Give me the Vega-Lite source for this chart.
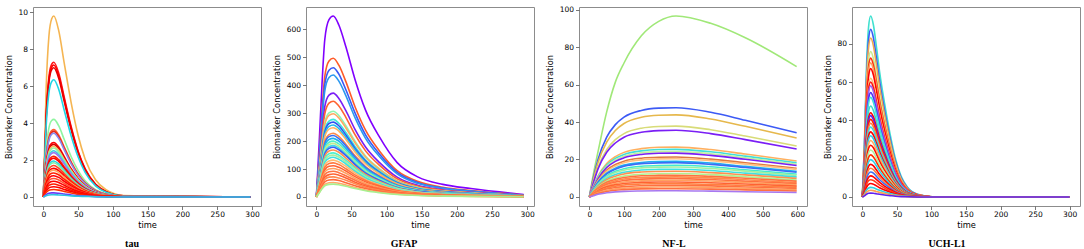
{
"$schema": "https://vega.github.io/schema/vega-lite/v6.json",
"background": "white",
"padding": {"left": 3, "top": 5, "right": 0, "bottom": 0},
"bounds": "flush",
"spacing": 45,
"resolve": {"scale": {"color": "independent", "x": "independent", "y": "independent"}},
"config": {
"view": {"stroke": "#8c8c8c", "strokeWidth": 1},
"axis": {"labelFont": "DejaVu Sans", "labelFontSize": 7.5, "labelColor": "#000", "titleFont": "DejaVu Sans", "titleFontSize": 8.3, "titleFontWeight": "normal", "titleColor": "#000", "tickColor": "#555", "tickSize": 3.5, "tickWidth": 0.8, "domain": false, "grid": false},
"axisX": {"labelPadding": 1, "titlePadding": 2.5},
"axisY": {"labelPadding": 2, "titlePadding": 4.5},
"line": {"strokeWidth": 1.6, "interpolate": "monotone"}
},
"datasets": {
"tau": [
{"c":1,"t":0,"v":0},{"c":1,"t":4,"v":5.88},{"c":1,"t":8,"v":8.72},{"c":1,"t":12,"v":9.65},{"c":1,"t":15,"v":9.8},{"c":1,"t":22,"v":9.02},{"c":1,"t":30,"v":7.25},{"c":1,"t":40,"v":5.1},{"c":1,"t":50,"v":3.33},{"c":1,"t":60,"v":2.06},{"c":1,"t":75,"v":0.93},{"c":1,"t":90,"v":0.39},{"c":1,"t":115,"v":0.08},{"c":1,"t":298,"v":0},
{"c":2,"t":0,"v":0},{"c":2,"t":4,"v":4.38},{"c":2,"t":8,"v":6.5},{"c":2,"t":12,"v":7.19},{"c":2,"t":15,"v":7.3},{"c":2,"t":22,"v":6.72},{"c":2,"t":30,"v":5.4},{"c":2,"t":40,"v":3.8},{"c":2,"t":50,"v":2.48},{"c":2,"t":60,"v":1.53},{"c":2,"t":75,"v":0.69},{"c":2,"t":90,"v":0.29},{"c":2,"t":115,"v":0.06},{"c":2,"t":298,"v":0},
{"c":3,"t":0,"v":0},{"c":3,"t":4,"v":4.29},{"c":3,"t":8,"v":6.36},{"c":3,"t":12,"v":7.04},{"c":3,"t":15,"v":7.15},{"c":3,"t":22,"v":6.58},{"c":3,"t":30,"v":5.29},{"c":3,"t":40,"v":3.72},{"c":3,"t":50,"v":2.43},{"c":3,"t":60,"v":1.5},{"c":3,"t":75,"v":0.68},{"c":3,"t":90,"v":0.29},{"c":3,"t":115,"v":0.06},{"c":3,"t":298,"v":0},
{"c":4,"t":0,"v":0},{"c":4,"t":4,"v":4.2},{"c":4,"t":8,"v":6.23},{"c":4,"t":12,"v":6.9},{"c":4,"t":15,"v":7},{"c":4,"t":22,"v":6.44},{"c":4,"t":30,"v":5.18},{"c":4,"t":40,"v":3.64},{"c":4,"t":50,"v":2.38},{"c":4,"t":60,"v":1.47},{"c":4,"t":75,"v":0.67},{"c":4,"t":90,"v":0.28},{"c":4,"t":115,"v":0.06},{"c":4,"t":298,"v":0},
{"c":5,"t":0,"v":0},{"c":5,"t":4,"v":3.81},{"c":5,"t":8,"v":5.65},{"c":5,"t":12,"v":6.25},{"c":5,"t":15,"v":6.35},{"c":5,"t":22,"v":5.84},{"c":5,"t":30,"v":4.7},{"c":5,"t":40,"v":3.3},{"c":5,"t":50,"v":2.16},{"c":5,"t":60,"v":1.33},{"c":5,"t":75,"v":0.6},{"c":5,"t":90,"v":0.25},{"c":5,"t":115,"v":0.05},{"c":5,"t":298,"v":0},
{"c":6,"t":0,"v":0},{"c":6,"t":4,"v":2.52},{"c":6,"t":8,"v":3.74},{"c":6,"t":12,"v":4.14},{"c":6,"t":15,"v":4.2},{"c":6,"t":22,"v":3.86},{"c":6,"t":30,"v":3.11},{"c":6,"t":40,"v":2.18},{"c":6,"t":50,"v":1.43},{"c":6,"t":60,"v":0.88},{"c":6,"t":75,"v":0.4},{"c":6,"t":90,"v":0.17},{"c":6,"t":115,"v":0.03},{"c":6,"t":298,"v":0},
{"c":7,"t":0,"v":0},{"c":7,"t":4,"v":2.19},{"c":7,"t":8,"v":3.25},{"c":7,"t":12,"v":3.6},{"c":7,"t":15,"v":3.65},{"c":7,"t":22,"v":3.36},{"c":7,"t":30,"v":2.7},{"c":7,"t":40,"v":1.9},{"c":7,"t":50,"v":1.24},{"c":7,"t":60,"v":0.77},{"c":7,"t":75,"v":0.35},{"c":7,"t":90,"v":0.15},{"c":7,"t":115,"v":0.03},{"c":7,"t":298,"v":0},
{"c":8,"t":0,"v":0},{"c":8,"t":4,"v":2.13},{"c":8,"t":8,"v":3.16},{"c":8,"t":12,"v":3.5},{"c":8,"t":15,"v":3.55},{"c":8,"t":22,"v":3.27},{"c":8,"t":30,"v":2.63},{"c":8,"t":40,"v":1.85},{"c":8,"t":50,"v":1.21},{"c":8,"t":60,"v":0.75},{"c":8,"t":75,"v":0.34},{"c":8,"t":90,"v":0.14},{"c":8,"t":115,"v":0.03},{"c":8,"t":298,"v":0},
{"c":9,"t":0,"v":0},{"c":9,"t":4,"v":2.07},{"c":9,"t":8,"v":3.07},{"c":9,"t":12,"v":3.4},{"c":9,"t":15,"v":3.45},{"c":9,"t":22,"v":3.17},{"c":9,"t":30,"v":2.55},{"c":9,"t":40,"v":1.79},{"c":9,"t":50,"v":1.17},{"c":9,"t":60,"v":0.72},{"c":9,"t":75,"v":0.33},{"c":9,"t":90,"v":0.14},{"c":9,"t":115,"v":0.03},{"c":9,"t":298,"v":0},
{"c":10,"t":0,"v":0},{"c":10,"t":4,"v":1.77},{"c":10,"t":8,"v":2.63},{"c":10,"t":12,"v":2.91},{"c":10,"t":15,"v":2.95},{"c":10,"t":22,"v":2.71},{"c":10,"t":30,"v":2.18},{"c":10,"t":40,"v":1.53},{"c":10,"t":50,"v":1},{"c":10,"t":60,"v":0.62},{"c":10,"t":75,"v":0.28},{"c":10,"t":90,"v":0.12},{"c":10,"t":115,"v":0.02},{"c":10,"t":298,"v":0},
{"c":11,"t":0,"v":0},{"c":11,"t":4,"v":1.71},{"c":11,"t":8,"v":2.54},{"c":11,"t":12,"v":2.81},{"c":11,"t":15,"v":2.85},{"c":11,"t":22,"v":2.62},{"c":11,"t":30,"v":2.11},{"c":11,"t":40,"v":1.48},{"c":11,"t":50,"v":0.97},{"c":11,"t":60,"v":0.6},{"c":11,"t":75,"v":0.27},{"c":11,"t":90,"v":0.11},{"c":11,"t":115,"v":0.02},{"c":11,"t":298,"v":0},
{"c":12,"t":0,"v":0},{"c":12,"t":4,"v":1.65},{"c":12,"t":8,"v":2.45},{"c":12,"t":12,"v":2.71},{"c":12,"t":15,"v":2.75},{"c":12,"t":22,"v":2.53},{"c":12,"t":30,"v":2.04},{"c":12,"t":40,"v":1.43},{"c":12,"t":50,"v":0.94},{"c":12,"t":60,"v":0.58},{"c":12,"t":75,"v":0.26},{"c":12,"t":90,"v":0.11},{"c":12,"t":115,"v":0.02},{"c":12,"t":298,"v":0},
{"c":13,"t":0,"v":0},{"c":13,"t":4,"v":1.59},{"c":13,"t":8,"v":2.36},{"c":13,"t":12,"v":2.61},{"c":13,"t":15,"v":2.65},{"c":13,"t":22,"v":2.44},{"c":13,"t":30,"v":1.96},{"c":13,"t":40,"v":1.38},{"c":13,"t":50,"v":0.9},{"c":13,"t":60,"v":0.56},{"c":13,"t":75,"v":0.25},{"c":13,"t":90,"v":0.11},{"c":13,"t":115,"v":0.02},{"c":13,"t":298,"v":0},
{"c":14,"t":0,"v":0},{"c":14,"t":4,"v":1.5},{"c":14,"t":8,"v":2.23},{"c":14,"t":12,"v":2.46},{"c":14,"t":15,"v":2.5},{"c":14,"t":22,"v":2.3},{"c":14,"t":30,"v":1.85},{"c":14,"t":40,"v":1.3},{"c":14,"t":50,"v":0.85},{"c":14,"t":60,"v":0.53},{"c":14,"t":75,"v":0.24},{"c":14,"t":90,"v":0.1},{"c":14,"t":115,"v":0.02},{"c":14,"t":298,"v":0},
{"c":15,"t":0,"v":0},{"c":15,"t":4,"v":1.44},{"c":15,"t":8,"v":2.14},{"c":15,"t":12,"v":2.36},{"c":15,"t":15,"v":2.4},{"c":15,"t":22,"v":2.21},{"c":15,"t":30,"v":1.78},{"c":15,"t":40,"v":1.25},{"c":15,"t":50,"v":0.82},{"c":15,"t":60,"v":0.5},{"c":15,"t":75,"v":0.23},{"c":15,"t":90,"v":0.1},{"c":15,"t":115,"v":0.02},{"c":15,"t":298,"v":0},
{"c":16,"t":0,"v":0},{"c":16,"t":4,"v":1.32},{"c":16,"t":8,"v":1.96},{"c":16,"t":12,"v":2.17},{"c":16,"t":15,"v":2.2},{"c":16,"t":22,"v":2.02},{"c":16,"t":30,"v":1.63},{"c":16,"t":40,"v":1.14},{"c":16,"t":50,"v":0.75},{"c":16,"t":60,"v":0.46},{"c":16,"t":75,"v":0.21},{"c":16,"t":90,"v":0.09},{"c":16,"t":115,"v":0.02},{"c":16,"t":298,"v":0},
{"c":17,"t":0,"v":0},{"c":17,"t":4,"v":1.26},{"c":17,"t":8,"v":1.87},{"c":17,"t":12,"v":2.07},{"c":17,"t":15,"v":2.1},{"c":17,"t":22,"v":1.93},{"c":17,"t":30,"v":1.55},{"c":17,"t":40,"v":1.09},{"c":17,"t":50,"v":0.71},{"c":17,"t":60,"v":0.44},{"c":17,"t":75,"v":0.2},{"c":17,"t":90,"v":0.08},{"c":17,"t":115,"v":0.02},{"c":17,"t":298,"v":0},
{"c":18,"t":0,"v":0},{"c":18,"t":4,"v":1.17},{"c":18,"t":8,"v":1.74},{"c":18,"t":12,"v":1.92},{"c":18,"t":15,"v":1.95},{"c":18,"t":22,"v":1.79},{"c":18,"t":30,"v":1.44},{"c":18,"t":40,"v":1.01},{"c":18,"t":50,"v":0.66},{"c":18,"t":60,"v":0.41},{"c":18,"t":75,"v":0.19},{"c":18,"t":90,"v":0.08},{"c":18,"t":115,"v":0.02},{"c":18,"t":298,"v":0},
{"c":19,"t":0,"v":0},{"c":19,"t":4,"v":1.11},{"c":19,"t":8,"v":1.65},{"c":19,"t":12,"v":1.82},{"c":19,"t":15,"v":1.85},{"c":19,"t":22,"v":1.7},{"c":19,"t":30,"v":1.37},{"c":19,"t":40,"v":0.96},{"c":19,"t":50,"v":0.63},{"c":19,"t":60,"v":0.39},{"c":19,"t":75,"v":0.18},{"c":19,"t":90,"v":0.07},{"c":19,"t":115,"v":0.01},{"c":19,"t":298,"v":0},
{"c":20,"t":0,"v":0},{"c":20,"t":4,"v":1.02},{"c":20,"t":8,"v":1.51},{"c":20,"t":12,"v":1.67},{"c":20,"t":15,"v":1.7},{"c":20,"t":22,"v":1.56},{"c":20,"t":30,"v":1.26},{"c":20,"t":40,"v":0.88},{"c":20,"t":50,"v":0.58},{"c":20,"t":60,"v":0.36},{"c":20,"t":75,"v":0.16},{"c":20,"t":90,"v":0.07},{"c":20,"t":115,"v":0.01},{"c":20,"t":298,"v":0},
{"c":21,"t":0,"v":0},{"c":21,"t":4,"v":0.93},{"c":21,"t":8,"v":1.38},{"c":21,"t":12,"v":1.53},{"c":21,"t":15,"v":1.55},{"c":21,"t":22,"v":1.43},{"c":21,"t":30,"v":1.15},{"c":21,"t":40,"v":0.81},{"c":21,"t":50,"v":0.53},{"c":21,"t":60,"v":0.33},{"c":21,"t":75,"v":0.15},{"c":21,"t":90,"v":0.06},{"c":21,"t":115,"v":0.01},{"c":21,"t":298,"v":0},
{"c":22,"t":0,"v":0},{"c":22,"t":4,"v":0.87},{"c":22,"t":8,"v":1.29},{"c":22,"t":12,"v":1.43},{"c":22,"t":15,"v":1.45},{"c":22,"t":22,"v":1.33},{"c":22,"t":30,"v":1.07},{"c":22,"t":40,"v":0.75},{"c":22,"t":50,"v":0.49},{"c":22,"t":60,"v":0.3},{"c":22,"t":75,"v":0.14},{"c":22,"t":90,"v":0.06},{"c":22,"t":115,"v":0.01},{"c":22,"t":298,"v":0},
{"c":23,"t":0,"v":0},{"c":23,"t":4,"v":0.78},{"c":23,"t":8,"v":1.16},{"c":23,"t":12,"v":1.28},{"c":23,"t":15,"v":1.3},{"c":23,"t":22,"v":1.2},{"c":23,"t":30,"v":0.96},{"c":23,"t":40,"v":0.68},{"c":23,"t":50,"v":0.44},{"c":23,"t":60,"v":0.27},{"c":23,"t":75,"v":0.12},{"c":23,"t":90,"v":0.05},{"c":23,"t":115,"v":0.01},{"c":23,"t":298,"v":0},
{"c":24,"t":0,"v":0},{"c":24,"t":4,"v":0.69},{"c":24,"t":8,"v":1.02},{"c":24,"t":12,"v":1.13},{"c":24,"t":15,"v":1.15},{"c":24,"t":22,"v":1.06},{"c":24,"t":30,"v":0.85},{"c":24,"t":40,"v":0.6},{"c":24,"t":50,"v":0.39},{"c":24,"t":60,"v":0.24},{"c":24,"t":75,"v":0.11},{"c":24,"t":90,"v":0.05},{"c":24,"t":115,"v":0.01},{"c":24,"t":298,"v":0},
{"c":25,"t":0,"v":0},{"c":25,"t":4,"v":0.6},{"c":25,"t":8,"v":0.89},{"c":25,"t":12,"v":0.99},{"c":25,"t":15,"v":1},{"c":25,"t":22,"v":0.92},{"c":25,"t":30,"v":0.74},{"c":25,"t":40,"v":0.52},{"c":25,"t":50,"v":0.34},{"c":25,"t":60,"v":0.21},{"c":25,"t":75,"v":0.1},{"c":25,"t":90,"v":0.04},{"c":25,"t":115,"v":0.01},{"c":25,"t":298,"v":0},
{"c":26,"t":0,"v":0},{"c":26,"t":4,"v":0.51},{"c":26,"t":8,"v":0.76},{"c":26,"t":12,"v":0.84},{"c":26,"t":15,"v":0.85},{"c":26,"t":22,"v":0.78},{"c":26,"t":30,"v":0.63},{"c":26,"t":40,"v":0.44},{"c":26,"t":50,"v":0.29},{"c":26,"t":60,"v":0.18},{"c":26,"t":75,"v":0.08},{"c":26,"t":90,"v":0.03},{"c":26,"t":115,"v":0.01},{"c":26,"t":298,"v":0},
{"c":27,"t":0,"v":0},{"c":27,"t":4,"v":0.42},{"c":27,"t":8,"v":0.62},{"c":27,"t":12,"v":0.69},{"c":27,"t":15,"v":0.7},{"c":27,"t":22,"v":0.64},{"c":27,"t":30,"v":0.52},{"c":27,"t":40,"v":0.36},{"c":27,"t":50,"v":0.24},{"c":27,"t":60,"v":0.15},{"c":27,"t":75,"v":0.07},{"c":27,"t":90,"v":0.03},{"c":27,"t":115,"v":0.01},{"c":27,"t":298,"v":0},
{"c":28,"t":0,"v":0},{"c":28,"t":4,"v":0.33},{"c":28,"t":8,"v":0.49},{"c":28,"t":12,"v":0.54},{"c":28,"t":15,"v":0.55},{"c":28,"t":22,"v":0.51},{"c":28,"t":30,"v":0.41},{"c":28,"t":40,"v":0.29},{"c":28,"t":50,"v":0.19},{"c":28,"t":60,"v":0.12},{"c":28,"t":75,"v":0.05},{"c":28,"t":90,"v":0.02},{"c":28,"t":115,"v":0},{"c":28,"t":298,"v":0},
{"c":29,"t":0,"v":0},{"c":29,"t":4,"v":0.24},{"c":29,"t":8,"v":0.36},{"c":29,"t":12,"v":0.39},{"c":29,"t":15,"v":0.4},{"c":29,"t":22,"v":0.37},{"c":29,"t":30,"v":0.3},{"c":29,"t":40,"v":0.21},{"c":29,"t":50,"v":0.14},{"c":29,"t":60,"v":0.08},{"c":29,"t":75,"v":0.04},{"c":29,"t":90,"v":0.02},{"c":29,"t":115,"v":0},{"c":29,"t":298,"v":0},
{"c":30,"t":0,"v":0},{"c":30,"t":4,"v":0.13},{"c":30,"t":8,"v":0.2},{"c":30,"t":12,"v":0.22},{"c":30,"t":15,"v":0.22},{"c":30,"t":22,"v":0.2},{"c":30,"t":30,"v":0.16},{"c":30,"t":40,"v":0.11},{"c":30,"t":50,"v":0.07},{"c":30,"t":60,"v":0.05},{"c":30,"t":75,"v":0.02},{"c":30,"t":90,"v":0.01},{"c":30,"t":115,"v":0},{"c":30,"t":298,"v":0},
{"c":31,"t":0,"v":0},{"c":31,"t":4,"v":0.07},{"c":31,"t":8,"v":0.11},{"c":31,"t":12,"v":0.12},{"c":31,"t":15,"v":0.12},{"c":31,"t":22,"v":0.11},{"c":31,"t":30,"v":0.09},{"c":31,"t":40,"v":0.06},{"c":31,"t":50,"v":0.04},{"c":31,"t":60,"v":0.03},{"c":31,"t":75,"v":0.01},{"c":31,"t":90,"v":0},{"c":31,"t":115,"v":0},{"c":31,"t":298,"v":0}
],
"gfap": [
{"c":1,"t":0,"v":0},{"c":1,"t":4,"v":194},{"c":1,"t":8,"v":402},{"c":1,"t":12,"v":564},{"c":1,"t":18,"v":635},{"c":1,"t":24,"v":648},{"c":1,"t":32,"v":616},{"c":1,"t":42,"v":538},{"c":1,"t":55,"v":421},{"c":1,"t":70,"v":311},{"c":1,"t":90,"v":214},{"c":1,"t":115,"v":123},{"c":1,"t":145,"v":71},{"c":1,"t":180,"v":45},{"c":1,"t":220,"v":30},{"c":1,"t":295,"v":9},
{"c":2,"t":0,"v":0},{"c":2,"t":4,"v":149},{"c":2,"t":8,"v":308},{"c":2,"t":12,"v":432},{"c":2,"t":18,"v":487},{"c":2,"t":24,"v":497},{"c":2,"t":32,"v":472},{"c":2,"t":42,"v":413},{"c":2,"t":55,"v":323},{"c":2,"t":70,"v":239},{"c":2,"t":90,"v":164},{"c":2,"t":115,"v":94},{"c":2,"t":145,"v":55},{"c":2,"t":180,"v":35},{"c":2,"t":220,"v":23},{"c":2,"t":295,"v":7},
{"c":3,"t":0,"v":0},{"c":3,"t":4,"v":139},{"c":3,"t":8,"v":287},{"c":3,"t":12,"v":403},{"c":3,"t":18,"v":454},{"c":3,"t":24,"v":463},{"c":3,"t":32,"v":440},{"c":3,"t":42,"v":384},{"c":3,"t":55,"v":301},{"c":3,"t":70,"v":222},{"c":3,"t":90,"v":153},{"c":3,"t":115,"v":88},{"c":3,"t":145,"v":51},{"c":3,"t":180,"v":32},{"c":3,"t":220,"v":21},{"c":3,"t":295,"v":6},
{"c":4,"t":0,"v":0},{"c":4,"t":4,"v":131},{"c":4,"t":8,"v":271},{"c":4,"t":12,"v":380},{"c":4,"t":18,"v":428},{"c":4,"t":24,"v":437},{"c":4,"t":32,"v":415},{"c":4,"t":42,"v":363},{"c":4,"t":55,"v":284},{"c":4,"t":70,"v":210},{"c":4,"t":90,"v":144},{"c":4,"t":115,"v":83},{"c":4,"t":145,"v":48},{"c":4,"t":180,"v":31},{"c":4,"t":220,"v":20},{"c":4,"t":295,"v":6},
{"c":5,"t":0,"v":0},{"c":5,"t":4,"v":112},{"c":5,"t":8,"v":231},{"c":5,"t":12,"v":324},{"c":5,"t":18,"v":365},{"c":5,"t":24,"v":372},{"c":5,"t":32,"v":353},{"c":5,"t":42,"v":309},{"c":5,"t":55,"v":242},{"c":5,"t":70,"v":179},{"c":5,"t":90,"v":123},{"c":5,"t":115,"v":71},{"c":5,"t":145,"v":41},{"c":5,"t":180,"v":26},{"c":5,"t":220,"v":17},{"c":5,"t":295,"v":5},
{"c":6,"t":0,"v":0},{"c":6,"t":4,"v":103},{"c":6,"t":8,"v":213},{"c":6,"t":12,"v":298},{"c":6,"t":18,"v":336},{"c":6,"t":24,"v":343},{"c":6,"t":32,"v":326},{"c":6,"t":42,"v":285},{"c":6,"t":55,"v":223},{"c":6,"t":70,"v":165},{"c":6,"t":90,"v":113},{"c":6,"t":115,"v":65},{"c":6,"t":145,"v":38},{"c":6,"t":180,"v":24},{"c":6,"t":220,"v":16},{"c":6,"t":295,"v":5},
{"c":7,"t":0,"v":0},{"c":7,"t":4,"v":92},{"c":7,"t":8,"v":190},{"c":7,"t":12,"v":267},{"c":7,"t":18,"v":301},{"c":7,"t":24,"v":307},{"c":7,"t":32,"v":292},{"c":7,"t":42,"v":255},{"c":7,"t":55,"v":200},{"c":7,"t":70,"v":147},{"c":7,"t":90,"v":101},{"c":7,"t":115,"v":58},{"c":7,"t":145,"v":34},{"c":7,"t":180,"v":21},{"c":7,"t":220,"v":14},{"c":7,"t":295,"v":4},
{"c":8,"t":0,"v":0},{"c":8,"t":4,"v":89},{"c":8,"t":8,"v":185},{"c":8,"t":12,"v":259},{"c":8,"t":18,"v":292},{"c":8,"t":24,"v":298},{"c":8,"t":32,"v":283},{"c":8,"t":42,"v":247},{"c":8,"t":55,"v":194},{"c":8,"t":70,"v":143},{"c":8,"t":90,"v":98},{"c":8,"t":115,"v":57},{"c":8,"t":145,"v":33},{"c":8,"t":180,"v":21},{"c":8,"t":220,"v":14},{"c":8,"t":295,"v":4},
{"c":9,"t":0,"v":0},{"c":9,"t":4,"v":83},{"c":9,"t":8,"v":172},{"c":9,"t":12,"v":242},{"c":9,"t":18,"v":272},{"c":9,"t":24,"v":278},{"c":9,"t":32,"v":264},{"c":9,"t":42,"v":231},{"c":9,"t":55,"v":181},{"c":9,"t":70,"v":133},{"c":9,"t":90,"v":92},{"c":9,"t":115,"v":53},{"c":9,"t":145,"v":31},{"c":9,"t":180,"v":19},{"c":9,"t":220,"v":13},{"c":9,"t":295,"v":4},
{"c":10,"t":0,"v":0},{"c":10,"t":4,"v":80},{"c":10,"t":8,"v":166},{"c":10,"t":12,"v":233},{"c":10,"t":18,"v":263},{"c":10,"t":24,"v":268},{"c":10,"t":32,"v":255},{"c":10,"t":42,"v":222},{"c":10,"t":55,"v":174},{"c":10,"t":70,"v":129},{"c":10,"t":90,"v":88},{"c":10,"t":115,"v":51},{"c":10,"t":145,"v":29},{"c":10,"t":180,"v":19},{"c":10,"t":220,"v":12},{"c":10,"t":295,"v":4},
{"c":11,"t":0,"v":0},{"c":11,"t":4,"v":77},{"c":11,"t":8,"v":160},{"c":11,"t":12,"v":224},{"c":11,"t":18,"v":253},{"c":11,"t":24,"v":258},{"c":11,"t":32,"v":245},{"c":11,"t":42,"v":214},{"c":11,"t":55,"v":168},{"c":11,"t":70,"v":124},{"c":11,"t":90,"v":85},{"c":11,"t":115,"v":49},{"c":11,"t":145,"v":28},{"c":11,"t":180,"v":18},{"c":11,"t":220,"v":12},{"c":11,"t":295,"v":4},
{"c":12,"t":0,"v":0},{"c":12,"t":4,"v":74},{"c":12,"t":8,"v":154},{"c":12,"t":12,"v":216},{"c":12,"t":18,"v":243},{"c":12,"t":24,"v":248},{"c":12,"t":32,"v":236},{"c":12,"t":42,"v":206},{"c":12,"t":55,"v":161},{"c":12,"t":70,"v":119},{"c":12,"t":90,"v":82},{"c":12,"t":115,"v":47},{"c":12,"t":145,"v":27},{"c":12,"t":180,"v":17},{"c":12,"t":220,"v":11},{"c":12,"t":295,"v":3},
{"c":13,"t":0,"v":0},{"c":13,"t":4,"v":68},{"c":13,"t":8,"v":141},{"c":13,"t":12,"v":198},{"c":13,"t":18,"v":223},{"c":13,"t":24,"v":228},{"c":13,"t":32,"v":217},{"c":13,"t":42,"v":189},{"c":13,"t":55,"v":148},{"c":13,"t":70,"v":109},{"c":13,"t":90,"v":75},{"c":13,"t":115,"v":43},{"c":13,"t":145,"v":25},{"c":13,"t":180,"v":16},{"c":13,"t":220,"v":10},{"c":13,"t":295,"v":3},
{"c":14,"t":0,"v":0},{"c":14,"t":4,"v":66},{"c":14,"t":8,"v":136},{"c":14,"t":12,"v":191},{"c":14,"t":18,"v":216},{"c":14,"t":24,"v":220},{"c":14,"t":32,"v":209},{"c":14,"t":42,"v":183},{"c":14,"t":55,"v":143},{"c":14,"t":70,"v":106},{"c":14,"t":90,"v":73},{"c":14,"t":115,"v":42},{"c":14,"t":145,"v":24},{"c":14,"t":180,"v":15},{"c":14,"t":220,"v":10},{"c":14,"t":295,"v":3},
{"c":15,"t":0,"v":0},{"c":15,"t":4,"v":63},{"c":15,"t":8,"v":130},{"c":15,"t":12,"v":183},{"c":15,"t":18,"v":206},{"c":15,"t":24,"v":210},{"c":15,"t":32,"v":200},{"c":15,"t":42,"v":174},{"c":15,"t":55,"v":137},{"c":15,"t":70,"v":101},{"c":15,"t":90,"v":69},{"c":15,"t":115,"v":40},{"c":15,"t":145,"v":23},{"c":15,"t":180,"v":15},{"c":15,"t":220,"v":10},{"c":15,"t":295,"v":3},
{"c":16,"t":0,"v":0},{"c":16,"t":4,"v":60},{"c":16,"t":8,"v":124},{"c":16,"t":12,"v":174},{"c":16,"t":18,"v":196},{"c":16,"t":24,"v":200},{"c":16,"t":32,"v":190},{"c":16,"t":42,"v":166},{"c":16,"t":55,"v":130},{"c":16,"t":70,"v":96},{"c":16,"t":90,"v":66},{"c":16,"t":115,"v":38},{"c":16,"t":145,"v":22},{"c":16,"t":180,"v":14},{"c":16,"t":220,"v":9},{"c":16,"t":295,"v":3},
{"c":17,"t":0,"v":0},{"c":17,"t":4,"v":58},{"c":17,"t":8,"v":119},{"c":17,"t":12,"v":167},{"c":17,"t":18,"v":188},{"c":17,"t":24,"v":192},{"c":17,"t":32,"v":182},{"c":17,"t":42,"v":159},{"c":17,"t":55,"v":125},{"c":17,"t":70,"v":92},{"c":17,"t":90,"v":63},{"c":17,"t":115,"v":36},{"c":17,"t":145,"v":21},{"c":17,"t":180,"v":13},{"c":17,"t":220,"v":9},{"c":17,"t":295,"v":3},
{"c":18,"t":0,"v":0},{"c":18,"t":4,"v":55},{"c":18,"t":8,"v":114},{"c":18,"t":12,"v":160},{"c":18,"t":18,"v":180},{"c":18,"t":24,"v":184},{"c":18,"t":32,"v":175},{"c":18,"t":42,"v":153},{"c":18,"t":55,"v":120},{"c":18,"t":70,"v":88},{"c":18,"t":90,"v":61},{"c":18,"t":115,"v":35},{"c":18,"t":145,"v":20},{"c":18,"t":180,"v":13},{"c":18,"t":220,"v":8},{"c":18,"t":295,"v":3},
{"c":19,"t":0,"v":0},{"c":19,"t":4,"v":53},{"c":19,"t":8,"v":110},{"c":19,"t":12,"v":155},{"c":19,"t":18,"v":174},{"c":19,"t":24,"v":178},{"c":19,"t":32,"v":169},{"c":19,"t":42,"v":148},{"c":19,"t":55,"v":116},{"c":19,"t":70,"v":85},{"c":19,"t":90,"v":59},{"c":19,"t":115,"v":34},{"c":19,"t":145,"v":20},{"c":19,"t":180,"v":12},{"c":19,"t":220,"v":8},{"c":19,"t":295,"v":2},
{"c":20,"t":0,"v":0},{"c":20,"t":4,"v":50},{"c":20,"t":8,"v":104},{"c":20,"t":12,"v":146},{"c":20,"t":18,"v":165},{"c":20,"t":24,"v":168},{"c":20,"t":32,"v":160},{"c":20,"t":42,"v":139},{"c":20,"t":55,"v":109},{"c":20,"t":70,"v":81},{"c":20,"t":90,"v":55},{"c":20,"t":115,"v":32},{"c":20,"t":145,"v":18},{"c":20,"t":180,"v":12},{"c":20,"t":220,"v":8},{"c":20,"t":295,"v":2},
{"c":21,"t":0,"v":0},{"c":21,"t":4,"v":47},{"c":21,"t":8,"v":98},{"c":21,"t":12,"v":137},{"c":21,"t":18,"v":155},{"c":21,"t":24,"v":158},{"c":21,"t":32,"v":150},{"c":21,"t":42,"v":131},{"c":21,"t":55,"v":103},{"c":21,"t":70,"v":76},{"c":21,"t":90,"v":52},{"c":21,"t":115,"v":30},{"c":21,"t":145,"v":17},{"c":21,"t":180,"v":11},{"c":21,"t":220,"v":7},{"c":21,"t":295,"v":2},
{"c":22,"t":0,"v":0},{"c":22,"t":4,"v":45},{"c":22,"t":8,"v":93},{"c":22,"t":12,"v":131},{"c":22,"t":18,"v":147},{"c":22,"t":24,"v":150},{"c":22,"t":32,"v":143},{"c":22,"t":42,"v":125},{"c":22,"t":55,"v":98},{"c":22,"t":70,"v":72},{"c":22,"t":90,"v":50},{"c":22,"t":115,"v":29},{"c":22,"t":145,"v":17},{"c":22,"t":180,"v":11},{"c":22,"t":220,"v":7},{"c":22,"t":295,"v":2},
{"c":23,"t":0,"v":0},{"c":23,"t":4,"v":43},{"c":23,"t":8,"v":88},{"c":23,"t":12,"v":124},{"c":23,"t":18,"v":139},{"c":23,"t":24,"v":142},{"c":23,"t":32,"v":135},{"c":23,"t":42,"v":118},{"c":23,"t":55,"v":92},{"c":23,"t":70,"v":68},{"c":23,"t":90,"v":47},{"c":23,"t":115,"v":27},{"c":23,"t":145,"v":16},{"c":23,"t":180,"v":10},{"c":23,"t":220,"v":7},{"c":23,"t":295,"v":2},
{"c":24,"t":0,"v":0},{"c":24,"t":4,"v":40},{"c":24,"t":8,"v":82},{"c":24,"t":12,"v":115},{"c":24,"t":18,"v":129},{"c":24,"t":24,"v":132},{"c":24,"t":32,"v":125},{"c":24,"t":42,"v":110},{"c":24,"t":55,"v":86},{"c":24,"t":70,"v":63},{"c":24,"t":90,"v":44},{"c":24,"t":115,"v":25},{"c":24,"t":145,"v":15},{"c":24,"t":180,"v":9},{"c":24,"t":220,"v":6},{"c":24,"t":295,"v":2},
{"c":25,"t":0,"v":0},{"c":25,"t":4,"v":37},{"c":25,"t":8,"v":76},{"c":25,"t":12,"v":106},{"c":25,"t":18,"v":120},{"c":25,"t":24,"v":122},{"c":25,"t":32,"v":116},{"c":25,"t":42,"v":101},{"c":25,"t":55,"v":79},{"c":25,"t":70,"v":59},{"c":25,"t":90,"v":40},{"c":25,"t":115,"v":23},{"c":25,"t":145,"v":13},{"c":25,"t":180,"v":9},{"c":25,"t":220,"v":6},{"c":25,"t":295,"v":2},
{"c":26,"t":0,"v":0},{"c":26,"t":4,"v":34},{"c":26,"t":8,"v":69},{"c":26,"t":12,"v":97},{"c":26,"t":18,"v":110},{"c":26,"t":24,"v":112},{"c":26,"t":32,"v":106},{"c":26,"t":42,"v":93},{"c":26,"t":55,"v":73},{"c":26,"t":70,"v":54},{"c":26,"t":90,"v":37},{"c":26,"t":115,"v":21},{"c":26,"t":145,"v":12},{"c":26,"t":180,"v":8},{"c":26,"t":220,"v":5},{"c":26,"t":295,"v":2},
{"c":27,"t":0,"v":0},{"c":27,"t":4,"v":31},{"c":27,"t":8,"v":63},{"c":27,"t":12,"v":89},{"c":27,"t":18,"v":100},{"c":27,"t":24,"v":102},{"c":27,"t":32,"v":97},{"c":27,"t":42,"v":85},{"c":27,"t":55,"v":66},{"c":27,"t":70,"v":49},{"c":27,"t":90,"v":34},{"c":27,"t":115,"v":19},{"c":27,"t":145,"v":11},{"c":27,"t":180,"v":7},{"c":27,"t":220,"v":5},{"c":27,"t":295,"v":1},
{"c":28,"t":0,"v":0},{"c":28,"t":4,"v":28},{"c":28,"t":8,"v":57},{"c":28,"t":12,"v":80},{"c":28,"t":18,"v":90},{"c":28,"t":24,"v":92},{"c":28,"t":32,"v":87},{"c":28,"t":42,"v":76},{"c":28,"t":55,"v":60},{"c":28,"t":70,"v":44},{"c":28,"t":90,"v":30},{"c":28,"t":115,"v":17},{"c":28,"t":145,"v":10},{"c":28,"t":180,"v":6},{"c":28,"t":220,"v":4},{"c":28,"t":295,"v":1},
{"c":29,"t":0,"v":0},{"c":29,"t":4,"v":25},{"c":29,"t":8,"v":51},{"c":29,"t":12,"v":71},{"c":29,"t":18,"v":80},{"c":29,"t":24,"v":82},{"c":29,"t":32,"v":78},{"c":29,"t":42,"v":68},{"c":29,"t":55,"v":53},{"c":29,"t":70,"v":39},{"c":29,"t":90,"v":27},{"c":29,"t":115,"v":16},{"c":29,"t":145,"v":9},{"c":29,"t":180,"v":6},{"c":29,"t":220,"v":4},{"c":29,"t":295,"v":1},
{"c":30,"t":0,"v":0},{"c":30,"t":4,"v":22},{"c":30,"t":8,"v":45},{"c":30,"t":12,"v":63},{"c":30,"t":18,"v":71},{"c":30,"t":24,"v":72},{"c":30,"t":32,"v":68},{"c":30,"t":42,"v":60},{"c":30,"t":55,"v":47},{"c":30,"t":70,"v":35},{"c":30,"t":90,"v":24},{"c":30,"t":115,"v":14},{"c":30,"t":145,"v":8},{"c":30,"t":180,"v":5},{"c":30,"t":220,"v":3},{"c":30,"t":295,"v":1},
{"c":31,"t":0,"v":0},{"c":31,"t":4,"v":19},{"c":31,"t":8,"v":38},{"c":31,"t":12,"v":54},{"c":31,"t":18,"v":61},{"c":31,"t":24,"v":62},{"c":31,"t":32,"v":59},{"c":31,"t":42,"v":51},{"c":31,"t":55,"v":40},{"c":31,"t":70,"v":30},{"c":31,"t":90,"v":20},{"c":31,"t":115,"v":12},{"c":31,"t":145,"v":7},{"c":31,"t":180,"v":4},{"c":31,"t":220,"v":3},{"c":31,"t":295,"v":1},
{"c":32,"t":0,"v":0},{"c":32,"t":4,"v":16},{"c":32,"t":8,"v":32},{"c":32,"t":12,"v":45},{"c":32,"t":18,"v":51},{"c":32,"t":24,"v":52},{"c":32,"t":32,"v":49},{"c":32,"t":42,"v":43},{"c":32,"t":55,"v":34},{"c":32,"t":70,"v":25},{"c":32,"t":90,"v":17},{"c":32,"t":115,"v":10},{"c":32,"t":145,"v":6},{"c":32,"t":180,"v":4},{"c":32,"t":220,"v":2},{"c":32,"t":295,"v":1},
{"c":33,"t":0,"v":0},{"c":33,"t":4,"v":14},{"c":33,"t":8,"v":29},{"c":33,"t":12,"v":40},{"c":33,"t":18,"v":45},{"c":33,"t":24,"v":46},{"c":33,"t":32,"v":44},{"c":33,"t":42,"v":38},{"c":33,"t":55,"v":30},{"c":33,"t":70,"v":22},{"c":33,"t":90,"v":15},{"c":33,"t":115,"v":9},{"c":33,"t":145,"v":5},{"c":33,"t":180,"v":3},{"c":33,"t":220,"v":2},{"c":33,"t":295,"v":1}
],
"nfl": [
{"c":1,"t":0,"v":0},{"c":1,"t":12,"v":12.6},{"c":1,"t":25,"v":24.2},{"c":1,"t":50,"v":45.4},{"c":1,"t":75,"v":61.3},{"c":1,"t":100,"v":71.5},{"c":1,"t":150,"v":86},{"c":1,"t":200,"v":93.7},{"c":1,"t":250,"v":96.6},{"c":1,"t":350,"v":92.7},{"c":1,"t":450,"v":85},{"c":1,"t":598,"v":69.6},
{"c":2,"t":0,"v":0},{"c":2,"t":12,"v":10.5},{"c":2,"t":25,"v":20},{"c":2,"t":50,"v":31.9},{"c":2,"t":75,"v":38.6},{"c":2,"t":100,"v":42.6},{"c":2,"t":150,"v":46.2},{"c":2,"t":200,"v":47.4},{"c":2,"t":250,"v":47.6},{"c":2,"t":350,"v":45.2},{"c":2,"t":450,"v":40.9},{"c":2,"t":598,"v":34.3},
{"c":3,"t":0,"v":0},{"c":3,"t":12,"v":9.6},{"c":3,"t":25,"v":18.4},{"c":3,"t":50,"v":29.3},{"c":3,"t":75,"v":35.5},{"c":3,"t":100,"v":39.2},{"c":3,"t":150,"v":42.5},{"c":3,"t":200,"v":43.6},{"c":3,"t":250,"v":43.8},{"c":3,"t":350,"v":41.6},{"c":3,"t":450,"v":37.7},{"c":3,"t":598,"v":31.5},
{"c":4,"t":0,"v":0},{"c":4,"t":12,"v":8.3},{"c":4,"t":25,"v":15.9},{"c":4,"t":50,"v":25.3},{"c":4,"t":75,"v":30.6},{"c":4,"t":100,"v":33.8},{"c":4,"t":150,"v":36.7},{"c":4,"t":200,"v":37.6},{"c":4,"t":250,"v":37.8},{"c":4,"t":350,"v":35.9},{"c":4,"t":450,"v":32.5},{"c":4,"t":598,"v":27.2},
{"c":5,"t":0,"v":0},{"c":5,"t":12,"v":7.8},{"c":5,"t":25,"v":15},{"c":5,"t":50,"v":23.9},{"c":5,"t":75,"v":28.8},{"c":5,"t":100,"v":31.9},{"c":5,"t":150,"v":34.5},{"c":5,"t":200,"v":35.4},{"c":5,"t":250,"v":35.6},{"c":5,"t":350,"v":33.8},{"c":5,"t":450,"v":30.6},{"c":5,"t":598,"v":25.6},
{"c":6,"t":0,"v":0},{"c":6,"t":12,"v":5.9},{"c":6,"t":25,"v":11.2},{"c":6,"t":50,"v":17.8},{"c":6,"t":75,"v":21.5},{"c":6,"t":100,"v":23.8},{"c":6,"t":150,"v":25.8},{"c":6,"t":200,"v":26.5},{"c":6,"t":250,"v":26.6},{"c":6,"t":350,"v":25.3},{"c":6,"t":450,"v":22.9},{"c":6,"t":598,"v":19.2},
{"c":7,"t":0,"v":0},{"c":7,"t":12,"v":5.6},{"c":7,"t":25,"v":10.7},{"c":7,"t":50,"v":17},{"c":7,"t":75,"v":20.6},{"c":7,"t":100,"v":22.7},{"c":7,"t":150,"v":24.6},{"c":7,"t":200,"v":25.3},{"c":7,"t":250,"v":25.4},{"c":7,"t":350,"v":24.1},{"c":7,"t":450,"v":21.8},{"c":7,"t":598,"v":18.3},
{"c":8,"t":0,"v":0},{"c":8,"t":12,"v":5.3},{"c":8,"t":25,"v":10.2},{"c":8,"t":50,"v":16.3},{"c":8,"t":75,"v":19.7},{"c":8,"t":100,"v":21.7},{"c":8,"t":150,"v":23.6},{"c":8,"t":200,"v":24.2},{"c":8,"t":250,"v":24.3},{"c":8,"t":350,"v":23.1},{"c":8,"t":450,"v":20.9},{"c":8,"t":598,"v":17.5},
{"c":9,"t":0,"v":0},{"c":9,"t":12,"v":5.1},{"c":9,"t":25,"v":9.8},{"c":9,"t":50,"v":15.7},{"c":9,"t":75,"v":19},{"c":9,"t":100,"v":20.9},{"c":9,"t":150,"v":22.7},{"c":9,"t":200,"v":23.3},{"c":9,"t":250,"v":23.4},{"c":9,"t":350,"v":22.2},{"c":9,"t":450,"v":20.1},{"c":9,"t":598,"v":16.8},
{"c":10,"t":0,"v":0},{"c":10,"t":12,"v":4.7},{"c":10,"t":25,"v":8.9},{"c":10,"t":50,"v":14.3},{"c":10,"t":75,"v":17.3},{"c":10,"t":100,"v":19.1},{"c":10,"t":150,"v":20.7},{"c":10,"t":200,"v":21.2},{"c":10,"t":250,"v":21.3},{"c":10,"t":350,"v":20.2},{"c":10,"t":450,"v":18.3},{"c":10,"t":598,"v":15.3},
{"c":11,"t":0,"v":0},{"c":11,"t":12,"v":4.5},{"c":11,"t":25,"v":8.6},{"c":11,"t":50,"v":13.7},{"c":11,"t":75,"v":16.5},{"c":11,"t":100,"v":18.3},{"c":11,"t":150,"v":19.8},{"c":11,"t":200,"v":20.3},{"c":11,"t":250,"v":20.4},{"c":11,"t":350,"v":19.4},{"c":11,"t":450,"v":17.5},{"c":11,"t":598,"v":14.7},
{"c":12,"t":0,"v":0},{"c":12,"t":12,"v":4.2},{"c":12,"t":25,"v":8},{"c":12,"t":50,"v":12.7},{"c":12,"t":75,"v":15.4},{"c":12,"t":100,"v":17},{"c":12,"t":150,"v":18.4},{"c":12,"t":200,"v":18.9},{"c":12,"t":250,"v":19},{"c":12,"t":350,"v":18.1},{"c":12,"t":450,"v":16.3},{"c":12,"t":598,"v":13.7},
{"c":13,"t":0,"v":0},{"c":13,"t":12,"v":4},{"c":13,"t":25,"v":7.7},{"c":13,"t":50,"v":12.3},{"c":13,"t":75,"v":14.8},{"c":13,"t":100,"v":16.4},{"c":13,"t":150,"v":17.8},{"c":13,"t":200,"v":18.2},{"c":13,"t":250,"v":18.3},{"c":13,"t":350,"v":17.4},{"c":13,"t":450,"v":15.7},{"c":13,"t":598,"v":13.2},
{"c":14,"t":0,"v":0},{"c":14,"t":12,"v":3.7},{"c":14,"t":25,"v":7.1},{"c":14,"t":50,"v":11.3},{"c":14,"t":75,"v":13.7},{"c":14,"t":100,"v":15.1},{"c":14,"t":150,"v":16.4},{"c":14,"t":200,"v":16.8},{"c":14,"t":250,"v":16.9},{"c":14,"t":350,"v":16.1},{"c":14,"t":450,"v":14.5},{"c":14,"t":598,"v":12.2},
{"c":15,"t":0,"v":0},{"c":15,"t":12,"v":3.5},{"c":15,"t":25,"v":6.7},{"c":15,"t":50,"v":10.7},{"c":15,"t":75,"v":13},{"c":15,"t":100,"v":14.3},{"c":15,"t":150,"v":15.5},{"c":15,"t":200,"v":15.9},{"c":15,"t":250,"v":16},{"c":15,"t":350,"v":15.2},{"c":15,"t":450,"v":13.8},{"c":15,"t":598,"v":11.5},
{"c":16,"t":0,"v":0},{"c":16,"t":12,"v":3.3},{"c":16,"t":25,"v":6.2},{"c":16,"t":50,"v":9.9},{"c":16,"t":75,"v":12},{"c":16,"t":100,"v":13.2},{"c":16,"t":150,"v":14.4},{"c":16,"t":200,"v":14.7},{"c":16,"t":250,"v":14.8},{"c":16,"t":350,"v":14.1},{"c":16,"t":450,"v":12.7},{"c":16,"t":598,"v":10.7},
{"c":17,"t":0,"v":0},{"c":17,"t":12,"v":3},{"c":17,"t":25,"v":5.8},{"c":17,"t":50,"v":9.2},{"c":17,"t":75,"v":11.1},{"c":17,"t":100,"v":12.3},{"c":17,"t":150,"v":13.3},{"c":17,"t":200,"v":13.6},{"c":17,"t":250,"v":13.7},{"c":17,"t":350,"v":13},{"c":17,"t":450,"v":11.8},{"c":17,"t":598,"v":9.9},
{"c":18,"t":0,"v":0},{"c":18,"t":12,"v":2.8},{"c":18,"t":25,"v":5.3},{"c":18,"t":50,"v":8.4},{"c":18,"t":75,"v":10.1},{"c":18,"t":100,"v":11.2},{"c":18,"t":150,"v":12.1},{"c":18,"t":200,"v":12.4},{"c":18,"t":250,"v":12.5},{"c":18,"t":350,"v":11.9},{"c":18,"t":450,"v":10.8},{"c":18,"t":598,"v":9},
{"c":19,"t":0,"v":0},{"c":19,"t":12,"v":2.6},{"c":19,"t":25,"v":4.9},{"c":19,"t":50,"v":7.8},{"c":19,"t":75,"v":9.4},{"c":19,"t":100,"v":10.4},{"c":19,"t":150,"v":11.3},{"c":19,"t":200,"v":11.5},{"c":19,"t":250,"v":11.6},{"c":19,"t":350,"v":11},{"c":19,"t":450,"v":10},{"c":19,"t":598,"v":8.4},
{"c":20,"t":0,"v":0},{"c":20,"t":12,"v":2.4},{"c":20,"t":25,"v":4.5},{"c":20,"t":50,"v":7.2},{"c":20,"t":75,"v":8.7},{"c":20,"t":100,"v":9.6},{"c":20,"t":150,"v":10.4},{"c":20,"t":200,"v":10.6},{"c":20,"t":250,"v":10.7},{"c":20,"t":350,"v":10.2},{"c":20,"t":450,"v":9.2},{"c":20,"t":598,"v":7.7},
{"c":21,"t":0,"v":0},{"c":21,"t":12,"v":2.2},{"c":21,"t":25,"v":4.1},{"c":21,"t":50,"v":6.6},{"c":21,"t":75,"v":7.9},{"c":21,"t":100,"v":8.8},{"c":21,"t":150,"v":9.5},{"c":21,"t":200,"v":9.8},{"c":21,"t":250,"v":9.8},{"c":21,"t":350,"v":9.3},{"c":21,"t":450,"v":8.4},{"c":21,"t":598,"v":7.1},
{"c":22,"t":0,"v":0},{"c":22,"t":12,"v":2},{"c":22,"t":25,"v":3.7},{"c":22,"t":50,"v":6},{"c":22,"t":75,"v":7.2},{"c":22,"t":100,"v":8},{"c":22,"t":150,"v":8.6},{"c":22,"t":200,"v":8.9},{"c":22,"t":250,"v":8.9},{"c":22,"t":350,"v":8.5},{"c":22,"t":450,"v":7.7},{"c":22,"t":598,"v":6.4},
{"c":23,"t":0,"v":0},{"c":23,"t":12,"v":1.8},{"c":23,"t":25,"v":3.4},{"c":23,"t":50,"v":5.4},{"c":23,"t":75,"v":6.5},{"c":23,"t":100,"v":7.2},{"c":23,"t":150,"v":7.8},{"c":23,"t":200,"v":8},{"c":23,"t":250,"v":8},{"c":23,"t":350,"v":7.6},{"c":23,"t":450,"v":6.9},{"c":23,"t":598,"v":5.8},
{"c":24,"t":0,"v":0},{"c":24,"t":12,"v":1.6},{"c":24,"t":25,"v":3},{"c":24,"t":50,"v":4.8},{"c":24,"t":75,"v":5.8},{"c":24,"t":100,"v":6.4},{"c":24,"t":150,"v":6.9},{"c":24,"t":200,"v":7.1},{"c":24,"t":250,"v":7.1},{"c":24,"t":350,"v":6.7},{"c":24,"t":450,"v":6.1},{"c":24,"t":598,"v":5.1},
{"c":25,"t":0,"v":0},{"c":25,"t":12,"v":1.4},{"c":25,"t":25,"v":2.6},{"c":25,"t":50,"v":4.2},{"c":25,"t":75,"v":5},{"c":25,"t":100,"v":5.5},{"c":25,"t":150,"v":6},{"c":25,"t":200,"v":6.2},{"c":25,"t":250,"v":6.2},{"c":25,"t":350,"v":5.9},{"c":25,"t":450,"v":5.3},{"c":25,"t":598,"v":4.5},
{"c":26,"t":0,"v":0},{"c":26,"t":12,"v":1.2},{"c":26,"t":25,"v":2.2},{"c":26,"t":50,"v":3.6},{"c":26,"t":75,"v":4.3},{"c":26,"t":100,"v":4.7},{"c":26,"t":150,"v":5.1},{"c":26,"t":200,"v":5.3},{"c":26,"t":250,"v":5.3},{"c":26,"t":350,"v":5},{"c":26,"t":450,"v":4.6},{"c":26,"t":598,"v":3.8},
{"c":27,"t":0,"v":0},{"c":27,"t":12,"v":1},{"c":27,"t":25,"v":1.8},{"c":27,"t":50,"v":2.9},{"c":27,"t":75,"v":3.6},{"c":27,"t":100,"v":3.9},{"c":27,"t":150,"v":4.3},{"c":27,"t":200,"v":4.4},{"c":27,"t":250,"v":4.4},{"c":27,"t":350,"v":4.2},{"c":27,"t":450,"v":3.8},{"c":27,"t":598,"v":3.2},
{"c":28,"t":0,"v":0},{"c":28,"t":12,"v":0.7},{"c":28,"t":25,"v":1.4},{"c":28,"t":50,"v":2.2},{"c":28,"t":75,"v":2.7},{"c":28,"t":100,"v":3},{"c":28,"t":150,"v":3.2},{"c":28,"t":200,"v":3.3},{"c":28,"t":250,"v":3.3},{"c":28,"t":350,"v":3.1},{"c":28,"t":450,"v":2.8},{"c":28,"t":598,"v":2.4}
],
"uch": [
{"c":1,"t":0,"v":0},{"c":1,"t":3,"v":28.4},{"c":1,"t":6,"v":68},{"c":1,"t":9,"v":88.8},{"c":1,"t":12,"v":94.5},{"c":1,"t":16,"v":89.8},{"c":1,"t":20,"v":79.4},{"c":1,"t":25,"v":65.2},{"c":1,"t":32,"v":49.1},{"c":1,"t":40,"v":33.1},{"c":1,"t":48,"v":19.8},{"c":1,"t":56,"v":10.9},{"c":1,"t":65,"v":5.2},{"c":1,"t":80,"v":1.4},{"c":1,"t":105,"v":0},{"c":1,"t":300,"v":0},
{"c":2,"t":0,"v":0},{"c":2,"t":3,"v":26.3},{"c":2,"t":6,"v":63},{"c":2,"t":9,"v":82.3},{"c":2,"t":12,"v":87.5},{"c":2,"t":16,"v":83.1},{"c":2,"t":20,"v":73.5},{"c":2,"t":25,"v":60.4},{"c":2,"t":32,"v":45.5},{"c":2,"t":40,"v":30.6},{"c":2,"t":48,"v":18.4},{"c":2,"t":56,"v":10.1},{"c":2,"t":65,"v":4.8},{"c":2,"t":80,"v":1.3},{"c":2,"t":105,"v":0},{"c":2,"t":300,"v":0},
{"c":3,"t":0,"v":0},{"c":3,"t":3,"v":24.9},{"c":3,"t":6,"v":59.8},{"c":3,"t":9,"v":78},{"c":3,"t":12,"v":83},{"c":3,"t":16,"v":78.9},{"c":3,"t":20,"v":69.7},{"c":3,"t":25,"v":57.3},{"c":3,"t":32,"v":43.2},{"c":3,"t":40,"v":29.1},{"c":3,"t":48,"v":17.4},{"c":3,"t":56,"v":9.5},{"c":3,"t":65,"v":4.6},{"c":3,"t":80,"v":1.2},{"c":3,"t":105,"v":0},{"c":3,"t":300,"v":0},
{"c":4,"t":0,"v":0},{"c":4,"t":3,"v":22.8},{"c":4,"t":6,"v":54.7},{"c":4,"t":9,"v":71.4},{"c":4,"t":12,"v":76},{"c":4,"t":16,"v":72.2},{"c":4,"t":20,"v":63.8},{"c":4,"t":25,"v":52.4},{"c":4,"t":32,"v":39.5},{"c":4,"t":40,"v":26.6},{"c":4,"t":48,"v":16},{"c":4,"t":56,"v":8.7},{"c":4,"t":65,"v":4.2},{"c":4,"t":80,"v":1.1},{"c":4,"t":105,"v":0},{"c":4,"t":300,"v":0},
{"c":5,"t":0,"v":0},{"c":5,"t":3,"v":21.8},{"c":5,"t":6,"v":52.2},{"c":5,"t":9,"v":68.2},{"c":5,"t":12,"v":72.5},{"c":5,"t":16,"v":68.9},{"c":5,"t":20,"v":60.9},{"c":5,"t":25,"v":50},{"c":5,"t":32,"v":37.7},{"c":5,"t":40,"v":25.4},{"c":5,"t":48,"v":15.2},{"c":5,"t":56,"v":8.3},{"c":5,"t":65,"v":4},{"c":5,"t":80,"v":1.1},{"c":5,"t":105,"v":0},{"c":5,"t":300,"v":0},
{"c":6,"t":0,"v":0},{"c":6,"t":3,"v":21},{"c":6,"t":6,"v":50.4},{"c":6,"t":9,"v":65.8},{"c":6,"t":12,"v":70},{"c":6,"t":16,"v":66.5},{"c":6,"t":20,"v":58.8},{"c":6,"t":25,"v":48.3},{"c":6,"t":32,"v":36.4},{"c":6,"t":40,"v":24.5},{"c":6,"t":48,"v":14.7},{"c":6,"t":56,"v":8.1},{"c":6,"t":65,"v":3.9},{"c":6,"t":80,"v":1.1},{"c":6,"t":105,"v":0},{"c":6,"t":300,"v":0},
{"c":7,"t":0,"v":0},{"c":7,"t":3,"v":20.1},{"c":7,"t":6,"v":48.2},{"c":7,"t":9,"v":63},{"c":7,"t":12,"v":67},{"c":7,"t":16,"v":63.7},{"c":7,"t":20,"v":56.3},{"c":7,"t":25,"v":46.2},{"c":7,"t":32,"v":34.8},{"c":7,"t":40,"v":23.5},{"c":7,"t":48,"v":14.1},{"c":7,"t":56,"v":7.7},{"c":7,"t":65,"v":3.7},{"c":7,"t":80,"v":1},{"c":7,"t":105,"v":0},{"c":7,"t":300,"v":0},
{"c":8,"t":0,"v":0},{"c":8,"t":3,"v":18.6},{"c":8,"t":6,"v":44.6},{"c":8,"t":9,"v":58.3},{"c":8,"t":12,"v":62},{"c":8,"t":16,"v":58.9},{"c":8,"t":20,"v":52.1},{"c":8,"t":25,"v":42.8},{"c":8,"t":32,"v":32.2},{"c":8,"t":40,"v":21.7},{"c":8,"t":48,"v":13},{"c":8,"t":56,"v":7.1},{"c":8,"t":65,"v":3.4},{"c":8,"t":80,"v":0.9},{"c":8,"t":105,"v":0},{"c":8,"t":300,"v":0},
{"c":9,"t":0,"v":0},{"c":9,"t":3,"v":18},{"c":9,"t":6,"v":43.2},{"c":9,"t":9,"v":56.4},{"c":9,"t":12,"v":60},{"c":9,"t":16,"v":57},{"c":9,"t":20,"v":50.4},{"c":9,"t":25,"v":41.4},{"c":9,"t":32,"v":31.2},{"c":9,"t":40,"v":21},{"c":9,"t":48,"v":12.6},{"c":9,"t":56,"v":6.9},{"c":9,"t":65,"v":3.3},{"c":9,"t":80,"v":0.9},{"c":9,"t":105,"v":0},{"c":9,"t":300,"v":0},
{"c":10,"t":0,"v":0},{"c":10,"t":3,"v":17.4},{"c":10,"t":6,"v":41.8},{"c":10,"t":9,"v":54.5},{"c":10,"t":12,"v":58},{"c":10,"t":16,"v":55.1},{"c":10,"t":20,"v":48.7},{"c":10,"t":25,"v":40},{"c":10,"t":32,"v":30.2},{"c":10,"t":40,"v":20.3},{"c":10,"t":48,"v":12.2},{"c":10,"t":56,"v":6.7},{"c":10,"t":65,"v":3.2},{"c":10,"t":80,"v":0.9},{"c":10,"t":105,"v":0},{"c":10,"t":300,"v":0},
{"c":11,"t":0,"v":0},{"c":11,"t":3,"v":16.4},{"c":11,"t":6,"v":39.2},{"c":11,"t":9,"v":51.2},{"c":11,"t":12,"v":54.5},{"c":11,"t":16,"v":51.8},{"c":11,"t":20,"v":45.8},{"c":11,"t":25,"v":37.6},{"c":11,"t":32,"v":28.3},{"c":11,"t":40,"v":19.1},{"c":11,"t":48,"v":11.4},{"c":11,"t":56,"v":6.3},{"c":11,"t":65,"v":3},{"c":11,"t":80,"v":0.8},{"c":11,"t":105,"v":0},{"c":11,"t":300,"v":0},
{"c":12,"t":0,"v":0},{"c":12,"t":3,"v":15.6},{"c":12,"t":6,"v":37.4},{"c":12,"t":9,"v":48.9},{"c":12,"t":12,"v":52},{"c":12,"t":16,"v":49.4},{"c":12,"t":20,"v":43.7},{"c":12,"t":25,"v":35.9},{"c":12,"t":32,"v":27},{"c":12,"t":40,"v":18.2},{"c":12,"t":48,"v":10.9},{"c":12,"t":56,"v":6},{"c":12,"t":65,"v":2.9},{"c":12,"t":80,"v":0.8},{"c":12,"t":105,"v":0},{"c":12,"t":300,"v":0},
{"c":13,"t":0,"v":0},{"c":13,"t":3,"v":14.3},{"c":13,"t":6,"v":34.2},{"c":13,"t":9,"v":44.7},{"c":13,"t":12,"v":47.5},{"c":13,"t":16,"v":45.1},{"c":13,"t":20,"v":39.9},{"c":13,"t":25,"v":32.8},{"c":13,"t":32,"v":24.7},{"c":13,"t":40,"v":16.6},{"c":13,"t":48,"v":10},{"c":13,"t":56,"v":5.5},{"c":13,"t":65,"v":2.6},{"c":13,"t":80,"v":0.7},{"c":13,"t":105,"v":0},{"c":13,"t":300,"v":0},
{"c":14,"t":0,"v":0},{"c":14,"t":3,"v":13.2},{"c":14,"t":6,"v":31.7},{"c":14,"t":9,"v":41.4},{"c":14,"t":12,"v":44},{"c":14,"t":16,"v":41.8},{"c":14,"t":20,"v":37},{"c":14,"t":25,"v":30.4},{"c":14,"t":32,"v":22.9},{"c":14,"t":40,"v":15.4},{"c":14,"t":48,"v":9.2},{"c":14,"t":56,"v":5.1},{"c":14,"t":65,"v":2.4},{"c":14,"t":80,"v":0.7},{"c":14,"t":105,"v":0},{"c":14,"t":300,"v":0},
{"c":15,"t":0,"v":0},{"c":15,"t":3,"v":12.8},{"c":15,"t":6,"v":30.6},{"c":15,"t":9,"v":40},{"c":15,"t":12,"v":42.5},{"c":15,"t":16,"v":40.4},{"c":15,"t":20,"v":35.7},{"c":15,"t":25,"v":29.3},{"c":15,"t":32,"v":22.1},{"c":15,"t":40,"v":14.9},{"c":15,"t":48,"v":8.9},{"c":15,"t":56,"v":4.9},{"c":15,"t":65,"v":2.3},{"c":15,"t":80,"v":0.6},{"c":15,"t":105,"v":0},{"c":15,"t":300,"v":0},
{"c":16,"t":0,"v":0},{"c":16,"t":3,"v":12.2},{"c":16,"t":6,"v":29.2},{"c":16,"t":9,"v":38.1},{"c":16,"t":12,"v":40.5},{"c":16,"t":16,"v":38.5},{"c":16,"t":20,"v":34},{"c":16,"t":25,"v":27.9},{"c":16,"t":32,"v":21.1},{"c":16,"t":40,"v":14.2},{"c":16,"t":48,"v":8.5},{"c":16,"t":56,"v":4.7},{"c":16,"t":65,"v":2.2},{"c":16,"t":80,"v":0.6},{"c":16,"t":105,"v":0},{"c":16,"t":300,"v":0},
{"c":17,"t":0,"v":0},{"c":17,"t":3,"v":11.6},{"c":17,"t":6,"v":27.7},{"c":17,"t":9,"v":36.2},{"c":17,"t":12,"v":38.5},{"c":17,"t":16,"v":36.6},{"c":17,"t":20,"v":32.3},{"c":17,"t":25,"v":26.6},{"c":17,"t":32,"v":20},{"c":17,"t":40,"v":13.5},{"c":17,"t":48,"v":8.1},{"c":17,"t":56,"v":4.4},{"c":17,"t":65,"v":2.1},{"c":17,"t":80,"v":0.6},{"c":17,"t":105,"v":0},{"c":17,"t":300,"v":0},
{"c":18,"t":0,"v":0},{"c":18,"t":3,"v":11},{"c":18,"t":6,"v":26.3},{"c":18,"t":9,"v":34.3},{"c":18,"t":12,"v":36.5},{"c":18,"t":16,"v":34.7},{"c":18,"t":20,"v":30.7},{"c":18,"t":25,"v":25.2},{"c":18,"t":32,"v":19},{"c":18,"t":40,"v":12.8},{"c":18,"t":48,"v":7.7},{"c":18,"t":56,"v":4.2},{"c":18,"t":65,"v":2},{"c":18,"t":80,"v":0.5},{"c":18,"t":105,"v":0},{"c":18,"t":300,"v":0},
{"c":19,"t":0,"v":0},{"c":19,"t":3,"v":10.2},{"c":19,"t":6,"v":24.5},{"c":19,"t":9,"v":32},{"c":19,"t":12,"v":34},{"c":19,"t":16,"v":32.3},{"c":19,"t":20,"v":28.6},{"c":19,"t":25,"v":23.5},{"c":19,"t":32,"v":17.7},{"c":19,"t":40,"v":11.9},{"c":19,"t":48,"v":7.1},{"c":19,"t":56,"v":3.9},{"c":19,"t":65,"v":1.9},{"c":19,"t":80,"v":0.5},{"c":19,"t":105,"v":0},{"c":19,"t":300,"v":0},
{"c":20,"t":0,"v":0},{"c":20,"t":3,"v":9.6},{"c":20,"t":6,"v":23},{"c":20,"t":9,"v":30.1},{"c":20,"t":12,"v":32},{"c":20,"t":16,"v":30.4},{"c":20,"t":20,"v":26.9},{"c":20,"t":25,"v":22.1},{"c":20,"t":32,"v":16.6},{"c":20,"t":40,"v":11.2},{"c":20,"t":48,"v":6.7},{"c":20,"t":56,"v":3.7},{"c":20,"t":65,"v":1.8},{"c":20,"t":80,"v":0.5},{"c":20,"t":105,"v":0},{"c":20,"t":300,"v":0},
{"c":21,"t":0,"v":0},{"c":21,"t":3,"v":8.9},{"c":21,"t":6,"v":21.2},{"c":21,"t":9,"v":27.7},{"c":21,"t":12,"v":29.5},{"c":21,"t":16,"v":28},{"c":21,"t":20,"v":24.8},{"c":21,"t":25,"v":20.4},{"c":21,"t":32,"v":15.3},{"c":21,"t":40,"v":10.3},{"c":21,"t":48,"v":6.2},{"c":21,"t":56,"v":3.4},{"c":21,"t":65,"v":1.6},{"c":21,"t":80,"v":0.4},{"c":21,"t":105,"v":0},{"c":21,"t":300,"v":0},
{"c":22,"t":0,"v":0},{"c":22,"t":3,"v":8.1},{"c":22,"t":6,"v":19.4},{"c":22,"t":9,"v":25.4},{"c":22,"t":12,"v":27},{"c":22,"t":16,"v":25.7},{"c":22,"t":20,"v":22.7},{"c":22,"t":25,"v":18.6},{"c":22,"t":32,"v":14},{"c":22,"t":40,"v":9.5},{"c":22,"t":48,"v":5.7},{"c":22,"t":56,"v":3.1},{"c":22,"t":65,"v":1.5},{"c":22,"t":80,"v":0.4},{"c":22,"t":105,"v":0},{"c":22,"t":300,"v":0},
{"c":23,"t":0,"v":0},{"c":23,"t":3,"v":7.4},{"c":23,"t":6,"v":17.6},{"c":23,"t":9,"v":23},{"c":23,"t":12,"v":24.5},{"c":23,"t":16,"v":23.3},{"c":23,"t":20,"v":20.6},{"c":23,"t":25,"v":16.9},{"c":23,"t":32,"v":12.7},{"c":23,"t":40,"v":8.6},{"c":23,"t":48,"v":5.1},{"c":23,"t":56,"v":2.8},{"c":23,"t":65,"v":1.3},{"c":23,"t":80,"v":0.4},{"c":23,"t":105,"v":0},{"c":23,"t":300,"v":0},
{"c":24,"t":0,"v":0},{"c":24,"t":3,"v":6.6},{"c":24,"t":6,"v":15.8},{"c":24,"t":9,"v":20.7},{"c":24,"t":12,"v":22},{"c":24,"t":16,"v":20.9},{"c":24,"t":20,"v":18.5},{"c":24,"t":25,"v":15.2},{"c":24,"t":32,"v":11.4},{"c":24,"t":40,"v":7.7},{"c":24,"t":48,"v":4.6},{"c":24,"t":56,"v":2.5},{"c":24,"t":65,"v":1.2},{"c":24,"t":80,"v":0.3},{"c":24,"t":105,"v":0},{"c":24,"t":300,"v":0},
{"c":25,"t":0,"v":0},{"c":25,"t":3,"v":5.9},{"c":25,"t":6,"v":14},{"c":25,"t":9,"v":18.3},{"c":25,"t":12,"v":19.5},{"c":25,"t":16,"v":18.5},{"c":25,"t":20,"v":16.4},{"c":25,"t":25,"v":13.5},{"c":25,"t":32,"v":10.1},{"c":25,"t":40,"v":6.8},{"c":25,"t":48,"v":4.1},{"c":25,"t":56,"v":2.2},{"c":25,"t":65,"v":1.1},{"c":25,"t":80,"v":0.3},{"c":25,"t":105,"v":0},{"c":25,"t":300,"v":0},
{"c":26,"t":0,"v":0},{"c":26,"t":3,"v":5.1},{"c":26,"t":6,"v":12.2},{"c":26,"t":9,"v":16},{"c":26,"t":12,"v":17},{"c":26,"t":16,"v":16.2},{"c":26,"t":20,"v":14.3},{"c":26,"t":25,"v":11.7},{"c":26,"t":32,"v":8.8},{"c":26,"t":40,"v":6},{"c":26,"t":48,"v":3.6},{"c":26,"t":56,"v":2},{"c":26,"t":65,"v":0.9},{"c":26,"t":80,"v":0.3},{"c":26,"t":105,"v":0},{"c":26,"t":300,"v":0},
{"c":27,"t":0,"v":0},{"c":27,"t":3,"v":4.5},{"c":27,"t":6,"v":10.8},{"c":27,"t":9,"v":14.1},{"c":27,"t":12,"v":15},{"c":27,"t":16,"v":14.3},{"c":27,"t":20,"v":12.6},{"c":27,"t":25,"v":10.4},{"c":27,"t":32,"v":7.8},{"c":27,"t":40,"v":5.3},{"c":27,"t":48,"v":3.2},{"c":27,"t":56,"v":1.7},{"c":27,"t":65,"v":0.8},{"c":27,"t":80,"v":0.2},{"c":27,"t":105,"v":0},{"c":27,"t":300,"v":0},
{"c":28,"t":0,"v":0},{"c":28,"t":3,"v":3.9},{"c":28,"t":6,"v":9.4},{"c":28,"t":9,"v":12.2},{"c":28,"t":12,"v":13},{"c":28,"t":16,"v":12.4},{"c":28,"t":20,"v":10.9},{"c":28,"t":25,"v":9},{"c":28,"t":32,"v":6.8},{"c":28,"t":40,"v":4.6},{"c":28,"t":48,"v":2.7},{"c":28,"t":56,"v":1.5},{"c":28,"t":65,"v":0.7},{"c":28,"t":80,"v":0.2},{"c":28,"t":105,"v":0},{"c":28,"t":300,"v":0},
{"c":29,"t":0,"v":0},{"c":29,"t":3,"v":3.3},{"c":29,"t":6,"v":7.9},{"c":29,"t":9,"v":10.3},{"c":29,"t":12,"v":11},{"c":29,"t":16,"v":10.5},{"c":29,"t":20,"v":9.2},{"c":29,"t":25,"v":7.6},{"c":29,"t":32,"v":5.7},{"c":29,"t":40,"v":3.9},{"c":29,"t":48,"v":2.3},{"c":29,"t":56,"v":1.3},{"c":29,"t":65,"v":0.6},{"c":29,"t":80,"v":0.2},{"c":29,"t":105,"v":0},{"c":29,"t":300,"v":0},
{"c":30,"t":0,"v":0},{"c":30,"t":3,"v":2.7},{"c":30,"t":6,"v":6.5},{"c":30,"t":9,"v":8.5},{"c":30,"t":12,"v":9},{"c":30,"t":16,"v":8.6},{"c":30,"t":20,"v":7.6},{"c":30,"t":25,"v":6.2},{"c":30,"t":32,"v":4.7},{"c":30,"t":40,"v":3.2},{"c":30,"t":48,"v":1.9},{"c":30,"t":56,"v":1},{"c":30,"t":65,"v":0.5},{"c":30,"t":80,"v":0.1},{"c":30,"t":105,"v":0},{"c":30,"t":300,"v":0},
{"c":31,"t":0,"v":0},{"c":31,"t":3,"v":2.1},{"c":31,"t":6,"v":5},{"c":31,"t":9,"v":6.6},{"c":31,"t":12,"v":7},{"c":31,"t":16,"v":6.7},{"c":31,"t":20,"v":5.9},{"c":31,"t":25,"v":4.8},{"c":31,"t":32,"v":3.6},{"c":31,"t":40,"v":2.5},{"c":31,"t":48,"v":1.5},{"c":31,"t":56,"v":0.8},{"c":31,"t":65,"v":0.4},{"c":31,"t":80,"v":0.1},{"c":31,"t":105,"v":0},{"c":31,"t":300,"v":0},
{"c":32,"t":0,"v":0},{"c":32,"t":3,"v":1.5},{"c":32,"t":6,"v":3.6},{"c":32,"t":9,"v":4.7},{"c":32,"t":12,"v":5},{"c":32,"t":16,"v":4.8},{"c":32,"t":20,"v":4.2},{"c":32,"t":25,"v":3.5},{"c":32,"t":32,"v":2.6},{"c":32,"t":40,"v":1.8},{"c":32,"t":48,"v":1.1},{"c":32,"t":56,"v":0.6},{"c":32,"t":65,"v":0.3},{"c":32,"t":80,"v":0.1},{"c":32,"t":105,"v":0},{"c":32,"t":300,"v":0},
{"c":33,"t":0,"v":0},{"c":33,"t":3,"v":1.1},{"c":33,"t":6,"v":2.5},{"c":33,"t":9,"v":3.3},{"c":33,"t":12,"v":3.5},{"c":33,"t":16,"v":3.3},{"c":33,"t":20,"v":2.9},{"c":33,"t":25,"v":2.4},{"c":33,"t":32,"v":1.8},{"c":33,"t":40,"v":1.2},{"c":33,"t":48,"v":0.7},{"c":33,"t":56,"v":0.4},{"c":33,"t":65,"v":0.2},{"c":33,"t":80,"v":0.1},{"c":33,"t":105,"v":0},{"c":33,"t":300,"v":0},
{"c":34,"t":0,"v":0},{"c":34,"t":3,"v":0.6},{"c":34,"t":6,"v":1.4},{"c":34,"t":9,"v":1.9},{"c":34,"t":12,"v":2},{"c":34,"t":16,"v":1.9},{"c":34,"t":20,"v":1.7},{"c":34,"t":25,"v":1.4},{"c":34,"t":32,"v":1},{"c":34,"t":40,"v":0.7},{"c":34,"t":48,"v":0.4},{"c":34,"t":56,"v":0.2},{"c":34,"t":65,"v":0.1},{"c":34,"t":80,"v":0},{"c":34,"t":105,"v":0},{"c":34,"t":300,"v":0}
]
},
"hconcat": [
{
"width": 228, "height": 199,
"data": {"name": "tau"},
"title": {"text": "tau", "orient": "bottom", "anchor": "middle", "font": "Liberation Serif", "fontSize": 10, "fontWeight": "bold", "color": "#000", "offset": 10, "dx": -15},
"mark": {"type": "line"},
"encoding": {
"x": {"field": "t", "type": "quantitative", "scale": {"domain": [-14.9, 312.9], "nice": false, "zero": false}, "axis": {"title": "time", "values": [0, 50, 100, 150, 200, 250, 300]}},
"y": {"field": "v", "type": "quantitative", "scale": {"domain": [-0.49, 10.29], "nice": false, "zero": false}, "axis": {"title": "Biomarker Concentration", "values": [0, 2, 4, 6, 8, 10]}},
"color": {"field": "c", "type": "nominal", "legend": null, "scale": {"domain": [1,2,3,4,5,6,7,8,9,10,11,12,13,14,15,16,17,18,19,20,21,22,23,24,25,26,27,28,29,30,31], "range": ["#f5b552","#ff1a1a","#ff0000","#e60000","#1fd6e6","#8ff5a0","#ff6232","#e6281e","#8a8cf0","#ff0000","#d40000","#ffb462","#8ff5a0","#3cd2e6","#a078f0","#ff1e00","#ff0000","#30d8e0","#80f0a8","#ff4020","#ff0000","#ffa860","#ff2000","#ff0000","#ff5030","#ff0000","#ff1a00","#ff0000","#ff3000","#6a3cf5","#2ec4e0"]}}
}
},
{
"width": 228, "height": 199,
"data": {"name": "gfap"},
"title": {"text": "GFAP", "orient": "bottom", "anchor": "middle", "font": "Liberation Serif", "fontSize": 10, "fontWeight": "bold", "color": "#000", "offset": 10, "dx": -16},
"mark": {"type": "line"},
"encoding": {
"x": {"field": "t", "type": "quantitative", "scale": {"domain": [-14.75, 309.75], "nice": false, "zero": false}, "axis": {"title": "time", "values": [0, 50, 100, 150, 200, 250, 300]}},
"y": {"field": "v", "type": "quantitative", "scale": {"domain": [-32.4, 680.4], "nice": false, "zero": false}, "axis": {"title": "Biomarker Concentration", "values": [0, 100, 200, 300, 400, 500, 600]}},
"color": {"field": "c", "type": "nominal", "legend": null, "scale": {"domain": [1,2,3,4,5,6,7,8,9,10,11,12,13,14,15,16,17,18,19,20,21,22,23,24,25,26,27,28,29,30,31,32,33], "range": ["#8000ff","#ff5a28","#3a58f5","#2a98ef","#7a1ef5","#ff6232","#90f5b0","#ffa860","#40e8d8","#3050f0","#20b8ee","#ffb462","#ff8a4a","#3a6cf5","#20b0f0","#50f0c8","#c0ec8e","#40d8e8","#3a5cf5","#ff9050","#50f0d0","#a8f0a0","#40e0e0","#ffb870","#ff7a40","#ff6232","#ffa060","#ff7040","#ff6232","#ff8850","#ff6a3a","#ffa868","#a8f090"]}}
}
},
{
"width": 228, "height": 199,
"data": {"name": "nfl"},
"title": {"text": "NF-L", "orient": "bottom", "anchor": "middle", "font": "Liberation Serif", "fontSize": 10, "fontWeight": "bold", "color": "#000", "offset": 10, "dx": -19},
"mark": {"type": "line"},
"encoding": {
"x": {"field": "t", "type": "quantitative", "scale": {"domain": [-29.9, 627.9], "nice": false, "zero": false}, "axis": {"title": "time", "values": [0, 100, 200, 300, 400, 500, 600]}},
"y": {"field": "v", "type": "quantitative", "scale": {"domain": [-4.83, 101.4], "nice": false, "zero": false}, "axis": {"title": "Biomarker Concentration", "values": [0, 20, 40, 60, 80, 100]}},
"color": {"field": "c", "type": "nominal", "legend": null, "scale": {"domain": [1,2,3,4,5,6,7,8,9,10,11,12,13,14,15,16,17,18,19,20,21,22,23,24,25,26,27,28], "range": ["#a0e878","#3c5af5","#e6b84c","#d8dc78","#7a1ef5","#ffb060","#40e0d8","#c0f0a0","#7a1ef5","#e07840","#ffc080","#20b0f0","#3a6cf5","#40e8d0","#a0f0a0","#40e0e0","#ff9050","#b0f090","#ff7040","#ff8a4a","#ff7040","#ffa060","#ff6232","#ff8040","#ff7040","#ffa060","#ff7040","#a878f0"]}}
}
},
{
"width": 228, "height": 199,
"data": {"name": "uch"},
"title": {"text": "UCH-L1", "orient": "bottom", "anchor": "middle", "font": "Liberation Serif", "fontSize": 10, "fontWeight": "bold", "color": "#000", "offset": 10, "dx": -19},
"mark": {"type": "line"},
"encoding": {
"x": {"field": "t", "type": "quantitative", "scale": {"domain": [-15, 315], "nice": false, "zero": false}, "axis": {"title": "time", "values": [0, 50, 100, 150, 200, 250, 300]}},
"y": {"field": "v", "type": "quantitative", "scale": {"domain": [-4.72, 99.2], "nice": false, "zero": false}, "axis": {"title": "Biomarker Concentration", "values": [0, 20, 40, 60, 80]}},
"color": {"field": "c", "type": "nominal", "legend": null, "scale": {"domain": [1,2,3,4,5,6,7,8,9,10,11,12,13,14,15,16,17,18,19,20,21,22,23,24,25,26,27,28,29,30,31,32,33,34], "range": ["#40e0d0","#3a5cf5","#f0a850","#c8ec8e","#ff3010","#ffa060","#ff0000","#ffc070","#ff1010","#a060f0","#5030f5","#40e0e0","#40d8c8","#ff0000","#6020f0","#ff2000","#ff8040","#40d8e0","#ff0000","#30c8e8","#ffb060","#ff1000","#b0f0a0","#ff3000","#30d0e8","#ff0000","#ff8040","#4070f0","#ff0000","#ff4020","#ff0000","#30d0e0","#ffa050","#6020f0"]}}
}
}
]
}
